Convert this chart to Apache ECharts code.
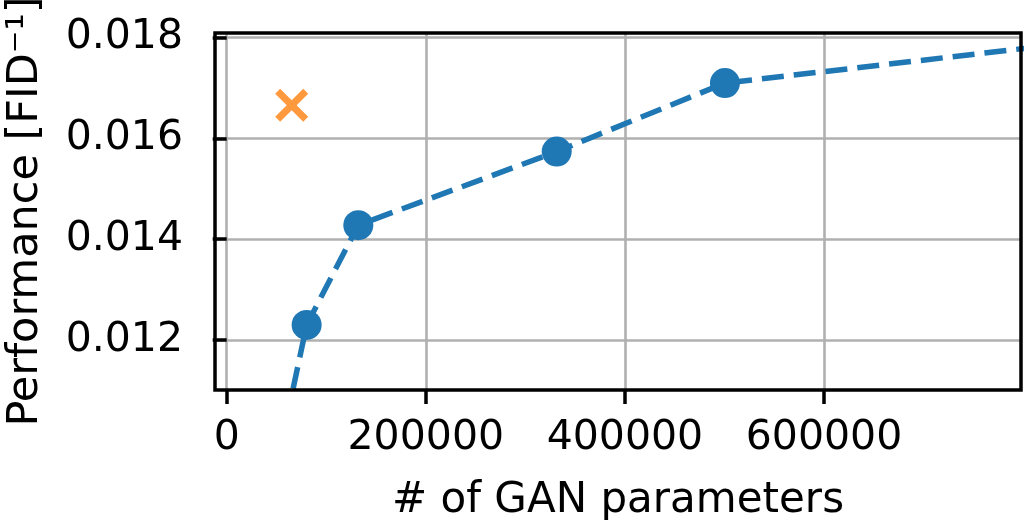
<!DOCTYPE html>
<html>
<head>
<meta charset="utf-8">
<script src="https://cdn.jsdelivr.net/npm/echarts@6/dist/echarts.min.js"></script>
<style>
html,body{margin:0;padding:0;background:#fff;}
#chart{width:1024px;height:520px;}
</style>
</head>
<body>
<div id="chart"></div>
<script>
// Data
const paramCounts = [40000, 80300, 132200, 331500, 500500, 1000000];
const performance = [0.00855, 0.0123, 0.01428, 0.01574, 0.0171, 0.01824];
const baselineParams = [65300];
const baselinePerf = [0.01666];
const xTicks = [0, 200000, 400000, 600000];
const yTicks = [0.012, 0.014, 0.016, 0.018];
const xLabel = '# of GAN parameters';
const yLabel = 'Performance [FID\u207B\u00B9]';

const FONT = 'DejaVu Sans';
const chart = echarts.init(document.getElementById('chart'), null, {renderer: 'canvas'});

const lineData = paramCounts.map((x, i) => [x, performance[i]]);
const baseData = baselineParams.map((x, i) => [x, baselinePerf[i]]);

const xShape = 'path://M0,1.5L1.5,0L5,3.5L8.5,0L10,1.5L6.5,5L10,8.5L8.5,10L5,6.5L1.5,10L0,8.5L3.5,5Z';

chart.setOption({
  animation: false,
  backgroundColor: '#fff',
  grid: {
    left: 215, right: 3, top: 33, bottom: 130,
    containLabel: false,
    outerBoundsMode: 'none',
    show: true, z: 10,
    borderColor: '#000', borderWidth: 3.5,
    backgroundColor: 'transparent'
  },
  xAxis: {
    type: 'value',
    min: -11750, max: 797900,
    splitNumber: 5,
    axisLine: {show: false},
    axisTick: {show: true, inside: false, length: 14, customValues: xTicks,
      lineStyle: {color: '#000', width: 3.5}},
    axisLabel: {show: true, customValues: xTicks, margin: 28,
      color: '#000', fontSize: 41, fontFamily: FONT,
      formatter: v => String(Math.round(v))},
    splitLine: {show: true, lineStyle: {color: '#b0b0b0', width: 2.6}},
    name: xLabel,
    nameLocation: 'middle',
    nameGap: 90,
    nameTextStyle: {color: '#000', fontSize: 42, fontFamily: FONT}
  },
  yAxis: {
    type: 'value',
    min: 0.011008, max: 0.018093,
    splitNumber: 3,
    axisLine: {show: false},
    axisTick: {show: true, inside: false, length: 14, customValues: yTicks,
      lineStyle: {color: '#000', width: 3.5}},
    axisLabel: {show: true, customValues: yTicks, margin: 32,
      color: '#000', fontSize: 41, fontFamily: FONT,
      formatter: v => v.toFixed(3)},
    splitLine: {show: true, lineStyle: {color: '#b0b0b0', width: 2.6}},
    name: yLabel,
    nameLocation: 'middle',
    nameGap: 168,
    nameRotate: 90,
    nameTextStyle: {color: '#000', fontSize: 43, fontFamily: FONT}
  },
  series: [
    {
      type: 'line',
      data: lineData,
      clip: true,
      symbol: 'circle',
      symbolSize: 30,
      showAllSymbol: true,
      itemStyle: {color: '#1f77b4'},
      lineStyle: {color: '#1f77b4', width: 5.5, type: [22, 10]},
      z: 3
    },
    {
      type: 'scatter',
      data: baseData,
      symbol: xShape,
      symbolSize: 33,
      itemStyle: {color: '#ff7f0e'},
      z: 3
    }
  ]
});
</script>
</body>
</html>
